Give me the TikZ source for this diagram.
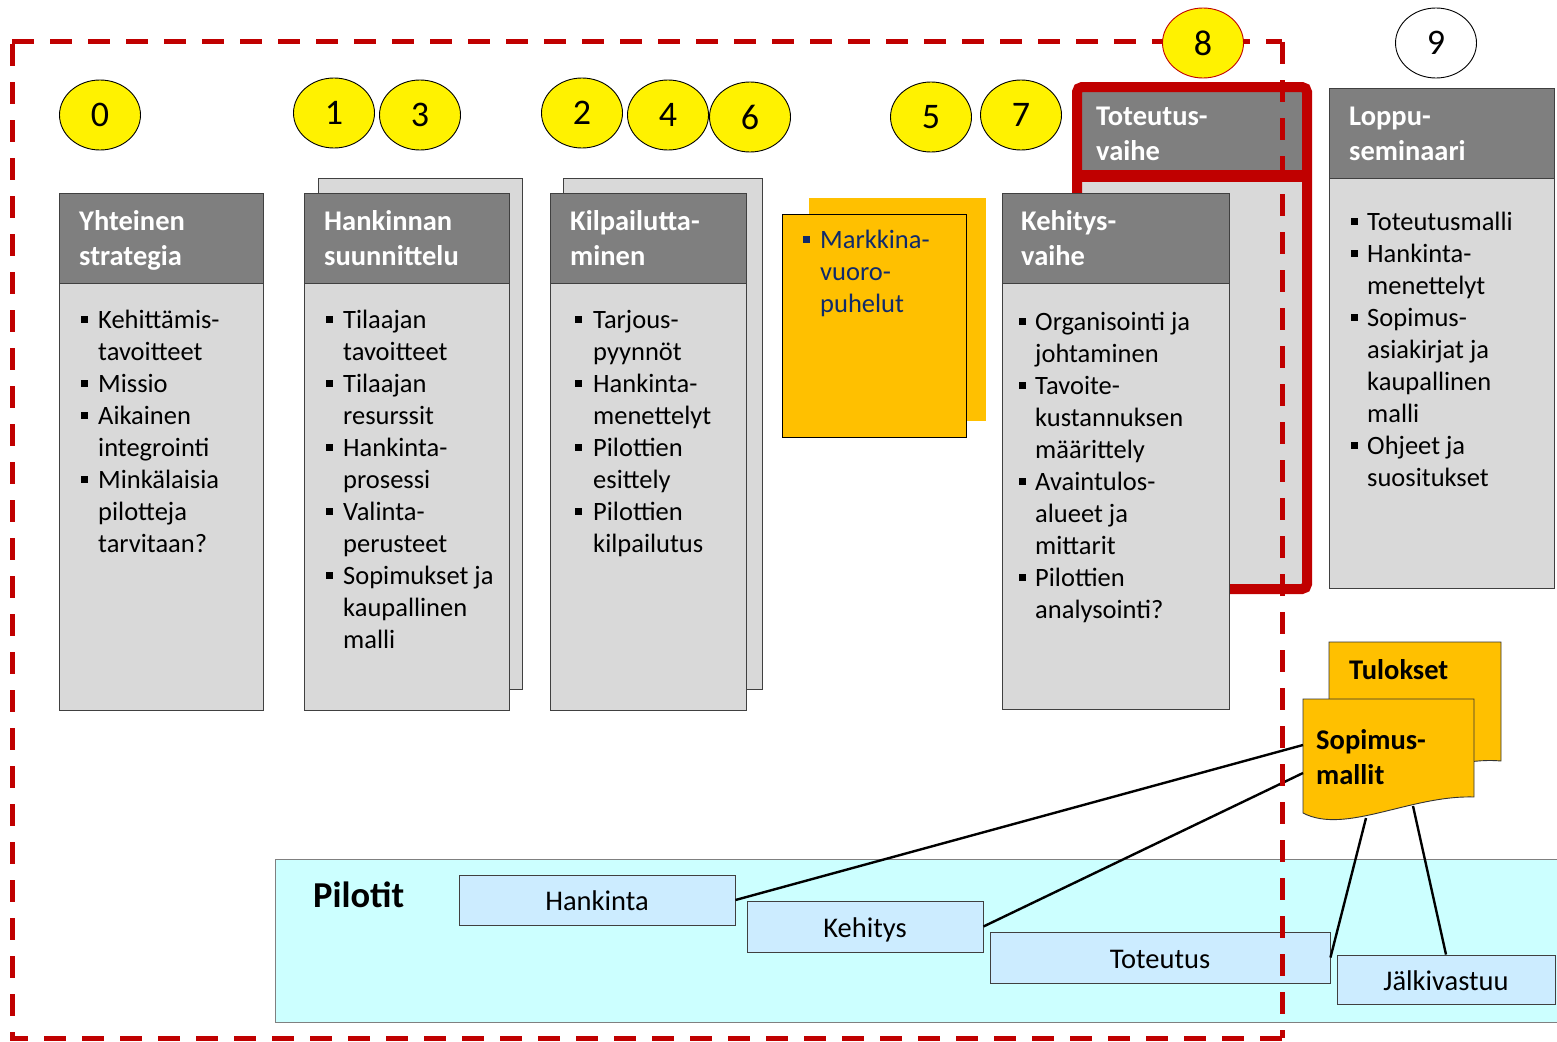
\documentclass[tikz,border=0pt]{standalone}
\usepackage{fontspec}
\setmainfont{Carlito}
\usetikzlibrary{shapes.geometric}
\definecolor{hdrgray}{HTML}{7F7F7F}
\definecolor{bodygray}{HTML}{D9D9D9}
\definecolor{orng}{HTML}{FFC000}
\definecolor{redc}{HTML}{C00000}
\definecolor{cyanbg}{HTML}{CCFFFF}
\definecolor{pilotbox}{HTML}{CCECFF}
\definecolor{navy}{HTML}{0F2A6B}
\newcommand{\sqb}{\raisebox{5pt}{\rule{7pt}{7pt}}}
\begin{document}
\begin{tikzpicture}[x=1pt,y=-1pt,
  box/.style={draw=black!75, line width=0.9pt, inner sep=0, anchor=north west},
  hdr/.style={box, fill=hdrgray},
  body/.style={box, fill=bodygray},
  hdrtext/.style={anchor=base west, inner sep=0, text=white, font=\fontsize{28.5}{35}\selectfont\bfseries},
  blist/.style={anchor=base west, inner sep=0, font=\fontsize{26.5}{32}\selectfont},
  dig/.style={ellipse, draw=black, line width=0.9pt, fill=yellow, minimum width=81, minimum height=70, inner sep=0, font=\fontsize{36}{36}\selectfont},
  pbox/.style={draw=black!75, line width=0.9pt, fill=pilotbox, inner sep=0},
  ptext/.style={anchor=base, inner sep=0, font=\fontsize{28.5}{30}\selectfont},
  conn/.style={draw=black, line width=2.4pt},
  docshape/.style={draw=black!80, line width=0.9pt, fill=orng},
  doctext/.style={anchor=base west, inner sep=0, font=\fontsize{28.5}{35}\selectfont\bfseries}
]
\useasboundingbox (0,0) rectangle (1557,1041);

% ---------- number ellipses (except 8) ----------
\node[dig] (d0) at (100,115) {0};
\node[dig] (d1) at (334,113) {1};
\node[dig] (d3) at (420,115) {3};
\node[dig] (d2) at (582,113) {2};
\node[dig] (d4) at (668,115) {4};
\node[dig] (d6) at (750,117) {6};
\node[dig] (d5) at (931,117) {5};
\node[dig] (d7) at (1021,115) {7};
\node[dig, fill=white] (d9) at (1436,43) {9};

% ---------- Yhteinen strategia ----------
\node[hdr, minimum width=204, minimum height=90] (h0) at (59,193) {};
\node[body, minimum width=204, minimum height=427] (b0) at (59,283) {};
\node[hdrtext] (t0) at (79,230) {\begin{tabular}[t]{@{}l@{}}Yhteinen\\strategia\end{tabular}};
\node[blist] (l0) at (81,328) {\begin{tabular}[t]{@{}p{17pt}@{}l@{}}
\sqb & Kehittämis-\\ & tavoitteet\\
\sqb & Missio\\
\sqb & Aikainen\\ & integrointi\\
\sqb & Minkälaisia\\ & pilotteja\\ & tarvitaan?
\end{tabular}};

% ---------- Hankinnan suunnittelu ----------
\node[body, minimum width=204, minimum height=511] (k1) at (318,178) {};
\node[hdr, minimum width=205, minimum height=90] (h1) at (304,193) {};
\node[body, minimum width=205, minimum height=427] (b1) at (304,283) {};
\node[hdrtext] (t1) at (324,230) {\begin{tabular}[t]{@{}l@{}}Hankinnan\\suunnittelu\end{tabular}};
\node[blist] (l1) at (326,328) {\begin{tabular}[t]{@{}p{17pt}@{}l@{}}
\sqb & Tilaajan\\ & tavoitteet\\
\sqb & Tilaajan\\ & resurssit\\
\sqb & Hankinta-\\ & prosessi\\
\sqb & Valinta-\\ & perusteet\\
\sqb & Sopimukset ja\\ & kaupallinen\\ & malli
\end{tabular}};

% ---------- Kilpailuttaminen ----------
\node[body, minimum width=199, minimum height=511] (k2) at (563,178) {};
\node[hdr, minimum width=196, minimum height=90] (h2) at (550,193) {};
\node[body, minimum width=196, minimum height=427] (b2) at (550,283) {};
\node[hdrtext] (t2) at (570,230) {\begin{tabular}[t]{@{}l@{}}Kilpailutta-\\minen\end{tabular}};
\node[blist] (l2) at (575,328) {\begin{tabular}[t]{@{}p{18pt}@{}l@{}}
\sqb & Tarjous-\\ & pyynnöt\\
\sqb & Hankinta-\\ & menettelyt\\
\sqb & Pilottien\\ & esittely\\
\sqb & Pilottien\\ & kilpailutus
\end{tabular}};

% ---------- Markkinavuoropuhelut ----------
\node[box, draw=none, fill=orng, minimum width=177, minimum height=223] (m0) at (809,198) {};
\node[box, draw=black, fill=orng, minimum width=184, minimum height=223] (m1) at (782,214) {};
\node[blist, text=navy] (lm) at (803,248) {\begin{tabular}[t]{@{}p{17pt}@{}l@{}}
\textcolor{navy}{\sqb} & Markkina-\\ & vuoro-\\ & puhelut
\end{tabular}};

% ---------- Toteutusvaihe ----------
\node[box, draw=none, fill=hdrgray, minimum width=220, minimum height=78] (h4) at (1082,92) {};
\node[box, draw=none, fill=bodygray, minimum width=220, minimum height=412] (b4) at (1082,176) {};
\draw[redc, line width=10pt, rounded corners=5pt] (1077,87) rectangle (1307,589);
\draw[redc, line width=12pt] (1077,176) -- (1307,176);
\node[hdrtext] (t4) at (1096,125) {\begin{tabular}[t]{@{}l@{}}Toteutus-\\vaihe\end{tabular}};

% ---------- Kehitysvaihe ----------
\node[hdr, minimum width=227, minimum height=90] (h3) at (1002,193) {};
\node[body, minimum width=227, minimum height=426] (b3) at (1002,283) {};
\node[hdrtext] (t3) at (1021,230) {\begin{tabular}[t]{@{}l@{}}Kehitys-\\vaihe\end{tabular}};
\node[blist] (l3) at (1019,330) {\begin{tabular}[t]{@{}p{16pt}@{}l@{}}
\sqb & Organisointi ja\\ & johtaminen\\
\sqb & Tavoite-\\ & kustannuksen\\ & määrittely\\
\sqb & Avaintulos-\\ & alueet ja\\ & mittarit\\
\sqb & Pilottien\\ & analysointi?
\end{tabular}};

% ---------- Loppuseminaari ----------
\node[hdr, minimum width=225, minimum height=90] (h5) at (1329,88) {};
\node[body, minimum width=225, minimum height=410] (b5) at (1329,178) {};
\node[hdrtext] (t5) at (1349,125) {\begin{tabular}[t]{@{}l@{}}Loppu-\\seminaari\end{tabular}};
\node[blist] (l5) at (1351,230) {\begin{tabular}[t]{@{}p{16pt}@{}l@{}}
\sqb & Toteutusmalli\\
\sqb & Hankinta-\\ & menettelyt\\
\sqb & Sopimus-\\ & asiakirjat ja\\ & kaupallinen\\ & malli\\
\sqb & Ohjeet ja\\ & suositukset
\end{tabular}};

% ---------- Pilotit ----------
\node[box, draw=black!50, fill=cyanbg, minimum width=1290, minimum height=163] (pil) at (275,859) {};
\node[anchor=base west, inner sep=0, font=\fontsize{36.5}{40}\selectfont\bfseries] (pt) at (313,907) {Pilotit};
\node[pbox, minimum width=276, minimum height=50] (p1) at (597,900) {};
\node[pbox, minimum width=236, minimum height=51] (p2) at (865,926.5) {};
\node[pbox, minimum width=340, minimum height=51] (p3) at (1160,957.5) {};
\node[pbox, minimum width=218, minimum height=49] (p4) at (1446,979.5) {};
\node[ptext] at (597,910) {Hankinta};
\node[ptext] at (865,937) {Kehitys};
\node[ptext] at (1160,968) {Toteutus};
\node[ptext] at (1446,990) {Jälkivastuu};

% ---------- Tulokset / Sopimusmallit ----------
\draw[docshape] (1329,642) -- (1501,642) -- (1501,761)
  .. controls (1450,756) and (1380,790) .. (1329,775) -- cycle;
\node[doctext] (tt) at (1349,679) {Tulokset};
\draw[docshape] (1303,699) -- (1474,699) -- (1474,797)
  .. controls (1410,795) and (1345,835) .. (1303,813) -- cycle;
\node[doctext] (ts) at (1316,749) {\begin{tabular}[t]{@{}l@{}}Sopimus-\\mallit\end{tabular}};
\coordinate (s1) at (1303,745);
\coordinate (s2) at (1303,773);
\coordinate (s3) at (1366,818);
\coordinate (s4) at (1413,806);

% ---------- connectors ----------
\draw[conn] (p1.east) -- (s1);
\draw[conn] (p2.east) -- (s2);
\draw[conn] (p3.east) -- (s3);
\draw[conn] (p4.north) -- (s4);

% ---------- dashed frame ----------
\draw[redc, line width=5pt, dash pattern=on 22pt off 16pt] (12,42) -- (1282,42);
\draw[redc, line width=5pt, dash pattern=on 22pt off 16pt] (12,44) -- (12,1038) -- (1282,1038);
\draw[redc, line width=5pt, dash pattern=on 22pt off 16pt] (1282,42) -- (1282,1038);

\node[dig, draw=redc] (d8) at (1203,43) {8};
\end{tikzpicture}
\end{document}
